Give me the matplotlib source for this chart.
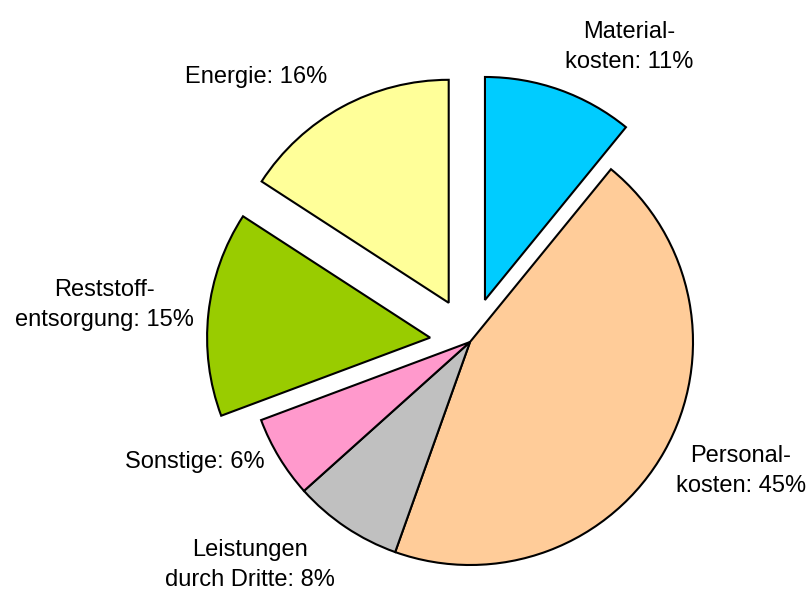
import matplotlib
matplotlib.use("Agg")
import matplotlib.pyplot as plt
import numpy as np

labels = ["Material-\nkosten: 11%", "Personal-\nkosten: 45%", "Leistungen\ndurch Dritte: 8%",
          "Sonstige: 6%", "Reststoff-\nentsorgung: 15%", "Energie: 16%"]
values = [11, 45, 8, 6, 15, 16]
colors = ["#00CCFF", "#FFCC99", "#C0C0C0", "#FF99CC", "#99CC00", "#FFFF99"]
explode = [0.2, 0, 0, 0, 0.18, 0.2]

# label positions in units of radius (relative to pie centre)
label_pos = [(0.713, 1.323), (1.215, -0.578), (-0.987, -1.0),
             (-1.233, -0.538), (-1.641, 0.166), (-0.96, 1.188)]

plt.rcParams['font.family'] = ['Liberation Sans', 'DejaVu Sans']

fig = plt.figure(figsize=(8.1, 5.9), dpi=100)
ax = fig.add_axes([0, 0, 1, 1])
wedges, _ = ax.pie(values, colors=colors, explode=explode, startangle=90,
                   counterclock=False, radius=1,
                   wedgeprops=dict(edgecolor="black", linewidth=1.5))
for (x, y), lab in zip(label_pos, labels):
    ax.text(x, y, lab, ha="center", va="center", fontsize=17,
            linespacing=1.5, color="black")

R = 223.0
cx, cy = 470.0, 590 - 342.0
ax.set_xlim(-cx / R, (810 - cx) / R)
ax.set_ylim(-cy / R, (590 - cy) / R)
ax.set_aspect("auto")
ax.axis("off")
fig.savefig("out.png", dpi=100)
